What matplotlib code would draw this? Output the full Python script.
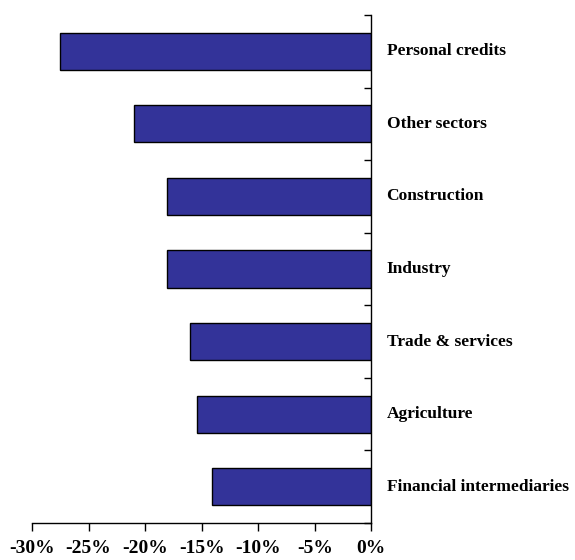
import matplotlib
matplotlib.use("Agg")
import matplotlib.pyplot as plt
import numpy as np
from matplotlib.ticker import FixedLocator, PercentFormatter

# change in credit by sector, %
sectors = ["Personal credits", "Other sectors", "Construction", "Industry",
           "Trade & services", "Agriculture", "Financial intermediaries"]
change = [-27.5, -21.0, -18.1, -18.1, -16.0, -15.4, -14.1]

bar_color = "#333399"
plt.rcParams["font.family"] = ["Liberation Serif", "DejaVu Serif"]
plt.rcParams["font.weight"] = "bold"
plt.rcParams["axes.unicode_minus"] = False

fig = plt.figure(figsize=(5.75, 5.6), dpi=100)
ax = fig.add_axes([32 / 575, 37 / 560, (371.3 - 32) / 575, (523 - 15) / 560])

y = np.arange(len(sectors))[::-1]
ax.barh(y, change, height=0.51, color=bar_color, edgecolor="black", linewidth=1.0)

ax.set_xlim(-30, 0)
ax.set_ylim(-0.5, len(sectors) - 0.5)

# category names sit to the right of the zero line
for yi, name in zip(y, sectors):
    ax.annotate(name, xy=(0, yi), xytext=(11, 0), textcoords="offset points",
                ha="left", va="center", fontsize=12.5, fontweight="bold",
                annotation_clip=False)

ax.spines["top"].set_visible(False)
ax.spines["left"].set_visible(False)
ax.spines["right"].set_linewidth(1.0)
ax.spines["bottom"].set_linewidth(1.0)

ax.set_xticks(np.arange(-30, 1, 5))
ax.xaxis.set_major_formatter(PercentFormatter(decimals=0))
ax.tick_params(axis="x", direction="out", length=6, width=1.0, labelsize=14, pad=6)

ax.yaxis.tick_right()
ax.yaxis.set_major_locator(FixedLocator(np.arange(-0.5, len(sectors), 1.0)))
ax.set_yticklabels([])
ax.tick_params(axis="y", direction="in", length=5, width=1.0)

for lbl in ax.get_xticklabels():
    lbl.set_fontweight("bold")

fig.savefig("out.png", dpi=100)
